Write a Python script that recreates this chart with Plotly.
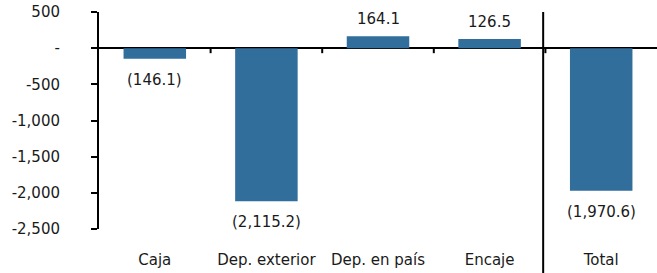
import plotly.graph_objects as go

categories = ["Caja", "Dep. exterior", "Dep. en país", "Encaje", "Total"]
values = [-146.1, -2115.2, 164.1, 126.5, -1970.6]
y_tickvals = [500, 0, -500, -1000, -1500, -2000, -2500]
y_ticktext = ["500", "-", "-500", "-1,000", "-1,500", "-2,000", "-2,500"]

BAR = "#316E9B"
FONT = "DejaVu Sans"
TXT = "#1a1a1a"
FS = 15

def fmt(v):
    s = f"{abs(v):,.1f}"
    return f"({s})" if v < 0 else s

fig = go.Figure()
fig.add_trace(go.Bar(x=categories, y=values, marker=dict(color=BAR, line=dict(width=0)),
                     width=0.56, hoverinfo="skip"))

for c, v in zip(categories, values):
    fig.add_annotation(x=c, y=v, text=fmt(v), showarrow=False,
                       yanchor="top" if v < 0 else "bottom",
                       yshift=-10 if v < 0 else 6,
                       font=dict(family=FONT, size=FS, color=TXT))

# category boundary ticks
for i in range(len(categories) - 1):
    fig.add_shape(type="line", xref="x", yref="y", x0=i + 0.5, x1=i + 0.5,
                  ysizemode="pixel", yanchor=0, y0=0, y1=-5,
                  line=dict(color="black", width=2))

# separator before Total
fig.add_shape(type="line", xref="x", yref="paper", x0=len(categories) - 1.52,
              x1=len(categories) - 1.52, y0=1.0, y1=-0.3,
              line=dict(color="black", width=2))

fig.update_layout(
    width=657, height=273,
    margin=dict(l=99, r=0, t=12, b=44),
    paper_bgcolor="white", plot_bgcolor="white",
    showlegend=False,
    font=dict(family=FONT, size=FS, color=TXT),
    xaxis=dict(range=[-0.5, len(categories) - 0.5], showline=False, showgrid=False,
               zeroline=False, ticks="", ticklabelstandoff=20,
               tickfont=dict(family=FONT, size=FS, color=TXT)),
    yaxis=dict(range=[-2500, 500], tickvals=y_tickvals, ticktext=y_ticktext,
               showgrid=False, showline=True, linecolor="black", linewidth=2,
               ticks="outside", ticklen=6, tickwidth=2, tickcolor="black",
               zeroline=True, zerolinecolor="black", zerolinewidth=2,
               ticklabelstandoff=28,
               tickfont=dict(family=FONT, size=FS, color=TXT)),
)

fig.write_html("out.html", config={"displayModeBar": False, "staticPlot": True},
               post_script="document.body.style.margin='0';document.body.style.overflow='hidden';")
